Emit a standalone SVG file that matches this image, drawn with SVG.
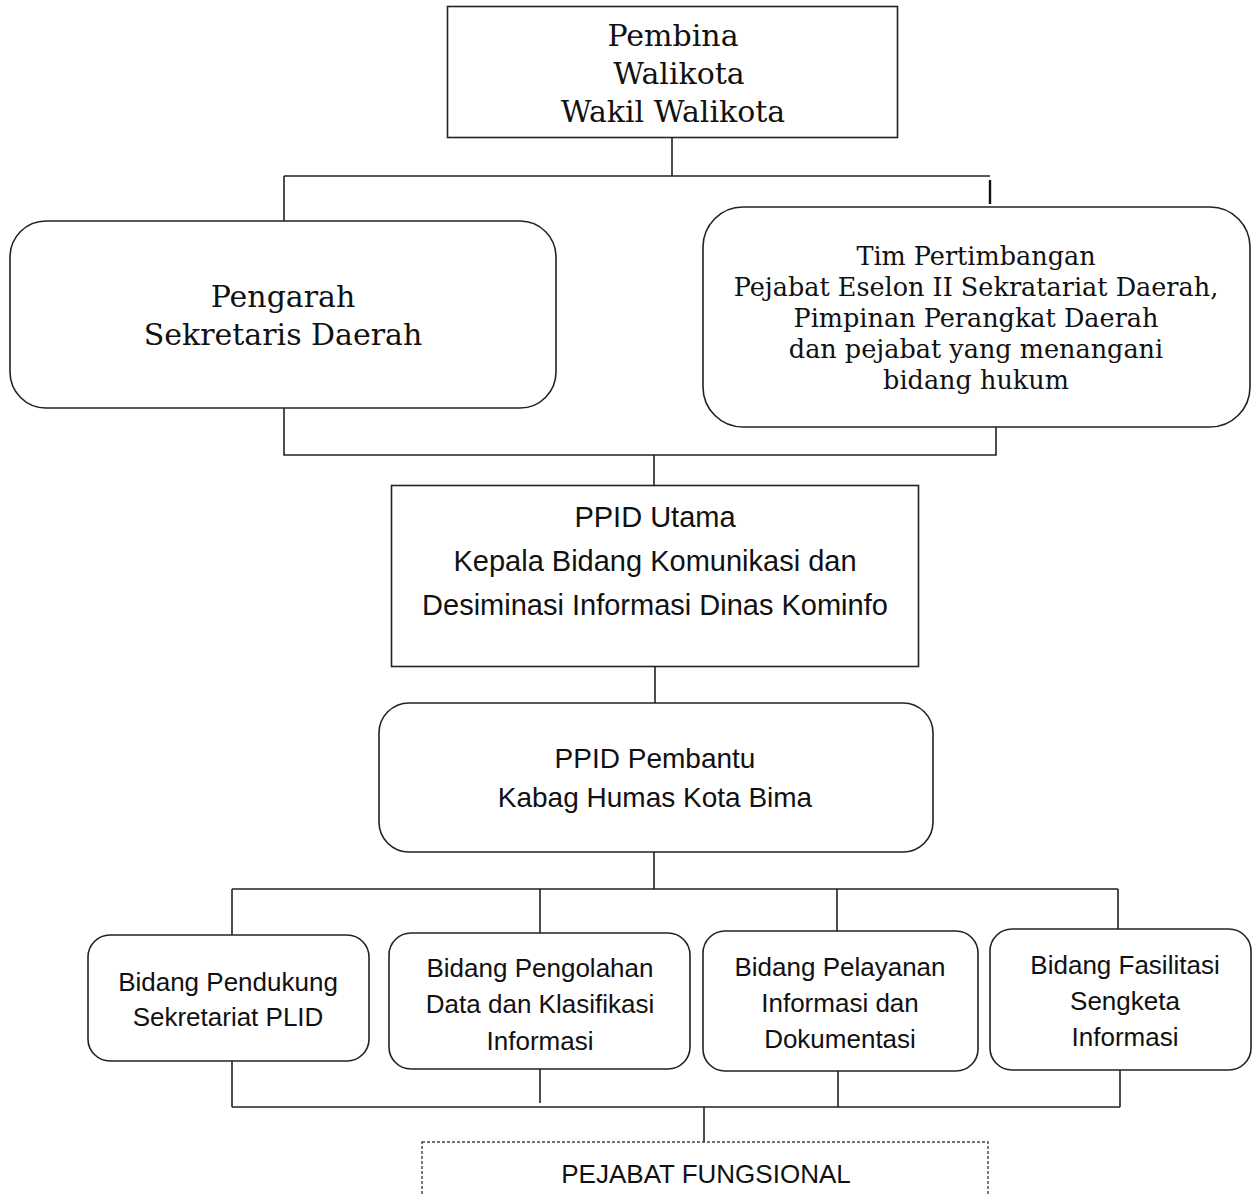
<svg xmlns="http://www.w3.org/2000/svg" width="1252" height="1196" viewBox="0 0 1252 1196">
<style>
.box{fill:#fff;stroke:#222;stroke-width:1.6}
.dash{fill:#fff;stroke:#444;stroke-width:1.4;stroke-dasharray:3 2}
.ln{fill:none;stroke:#222;stroke-width:1.6}
.serif{font-family:"DejaVu Serif","Liberation Serif",serif;fill:#111;text-anchor:middle}
.sans{font-family:"Liberation Sans",Arial,sans-serif;fill:#111;text-anchor:middle}
</style>
<rect width="1252" height="1196" fill="#fff"/>
<g id="connectors">
<path class="ln" d="M672 138V176M284 176H990M284 176V221"/>
<path d="M990 180V204" stroke="#111" stroke-width="2.4" fill="none"/>
<path class="ln" d="M284 408V455H996V427M654 455V485"/>
<path class="ln" d="M655 667V703"/>
<path class="ln" d="M654 852V889M232 889H1118M232 889V935M540 889V933M837 889V931M1118 889V929"/>
<path class="ln" d="M232 1061V1107M540 1069V1103M838 1071V1107M1120 1070V1107M232 1107H1120M704 1107V1142"/>
</g>
<g id="pembina">
<rect class="box" x="447.5" y="6.5" width="450" height="131"/>
<text class="serif" font-size="30"><tspan x="673" y="46">Pembina</tspan><tspan x="679" y="84">Walikota</tspan><tspan x="673" y="122">Wakil Walikota</tspan></text>
</g>
<g id="pengarah">
<rect class="box" x="10" y="221" width="546" height="187" rx="36"/>
<text class="serif" font-size="30"><tspan x="283" y="307">Pengarah</tspan><tspan x="283" y="345">Sekretaris Daerah</tspan></text>
</g>
<g id="tim">
<rect class="box" x="703" y="207" width="547" height="220" rx="40"/>
<text class="serif" font-size="25.5"><tspan x="976" y="265">Tim Pertimbangan</tspan><tspan x="976" y="296">Pejabat Eselon II Sekratariat Daerah,</tspan><tspan x="976" y="327">Pimpinan Perangkat Daerah</tspan><tspan x="976" y="358">dan pejabat yang menangani</tspan><tspan x="976" y="389">bidang hukum</tspan></text>
</g>
<g id="ppid-utama">
<rect class="box" x="391.5" y="485.5" width="527" height="181"/>
<text class="sans" font-size="29"><tspan x="655" y="527">PPID Utama</tspan><tspan x="655" y="571">Kepala Bidang Komunikasi dan</tspan><tspan x="655" y="615">Desiminasi Informasi Dinas Kominfo</tspan></text>
</g>
<g id="ppid-pembantu">
<rect class="box" x="379" y="703" width="554" height="149" rx="30"/>
<text class="sans" font-size="28"><tspan x="655" y="768">PPID Pembantu</tspan><tspan x="655" y="807">Kabag Humas Kota Bima</tspan></text>
</g>
<g id="bidang-pendukung">
<rect class="box" x="88" y="935" width="281" height="126" rx="22"/>
<text class="sans" font-size="26"><tspan x="228" y="991">Bidang Pendukung</tspan><tspan x="228" y="1026">Sekretariat PLID</tspan></text>
</g>
<g id="bidang-pengolahan">
<rect class="box" x="389" y="933" width="301" height="136" rx="22"/>
<text class="sans" font-size="26"><tspan x="540" y="977">Bidang Pengolahan</tspan><tspan x="540" y="1013">Data dan Klasifikasi</tspan><tspan x="540" y="1050">Informasi</tspan></text>
</g>
<g id="bidang-pelayanan">
<rect class="box" x="703" y="931" width="275" height="140" rx="22"/>
<text class="sans" font-size="26"><tspan x="840" y="976">Bidang Pelayanan</tspan><tspan x="840" y="1012">Informasi dan</tspan><tspan x="840" y="1048">Dokumentasi</tspan></text>
</g>
<g id="bidang-fasilitasi">
<rect class="box" x="990" y="929" width="261" height="141" rx="22"/>
<text class="sans" font-size="26"><tspan x="1125" y="974">Bidang Fasilitasi</tspan><tspan x="1125" y="1010">Sengketa</tspan><tspan x="1125" y="1046">Informasi</tspan></text>
</g>
<g id="pejabat-fungsional">
<rect class="dash" x="422" y="1142" width="566" height="70"/>
<text class="sans" font-size="26" x="706" y="1183">PEJABAT FUNGSIONAL</text>
</g>
</svg>
